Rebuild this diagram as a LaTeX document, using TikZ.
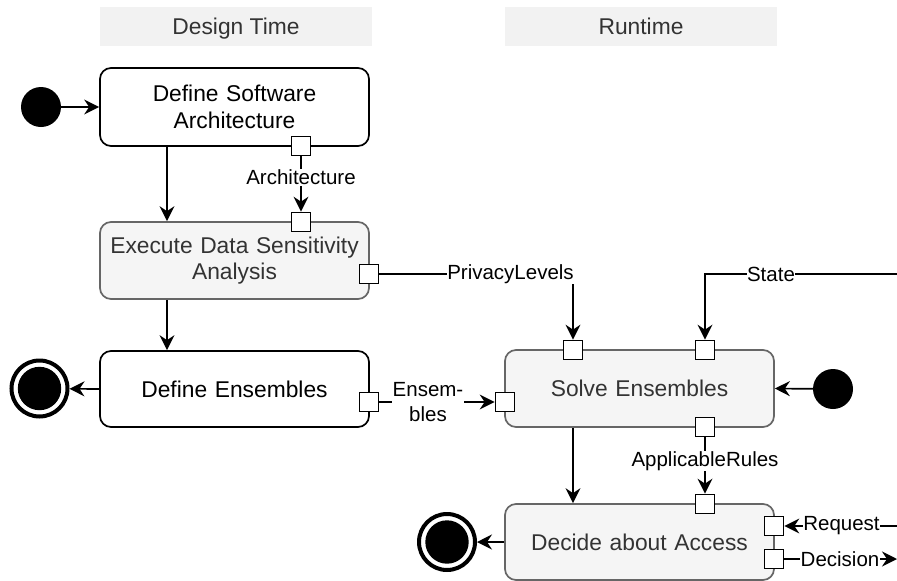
\documentclass[tikz,border=0pt]{standalone}
\usepackage{fontspec}
\setmainfont{Liberation Sans}
\usetikzlibrary{arrows.meta}
\definecolor{hdrfill}{HTML}{F2F2F2}
\definecolor{greyfill}{HTML}{F5F5F5}
\definecolor{greystroke}{HTML}{666666}
\definecolor{greytext}{HTML}{333333}
\begin{document}
\begin{tikzpicture}[x=1pt,y=-1pt,
  mainfont/.style={font=\fontsize{22.8}{26.7}\selectfont},
  lblfont/.style={font=\fontsize{20.5}{24.5}\selectfont},
  header/.style={rectangle, fill=hdrfill, draw=none, minimum width=272pt, minimum height=39pt, text=greytext, mainfont, inner sep=0pt, text height=16.3pt, text depth=0pt},
  action/.style={rectangle, rounded corners=11pt, draw=black, fill=white, line width=1.7pt, minimum width=269pt, text width=255pt, align=center, mainfont, inner sep=0pt},
  greyaction/.style={action, draw=greystroke, fill=greyfill, text=greytext},
  pin/.style={rectangle, draw=black, fill=white, line width=1.7pt, minimum size=19pt, inner sep=0pt},
  startnode/.style={circle, fill=black, minimum size=40pt, inner sep=0pt},
  finalnode/.style={circle, draw=black, fill=white, line width=4pt, minimum size=56pt, inner sep=0pt,
    path picture={\fill[black] (path picture bounding box.center) circle (21.7pt);}},
  arr/.style={line width=1.7pt, -{Stealth[length=15pt, width=15pt, inset=5pt]}},
  lbl/.style={fill=white, inner sep=0.5pt, lblfont, align=center}
]
\useasboundingbox (0,0) rectangle (897,581);

% headers
\node[header] (hdrDT) at (236,26.5) {Design Time};
\node[header] (hdrRT) at (641,26.5) {Runtime};

% actions
\node[action, minimum height=78pt] (box1) at (234.5,107) {Define Software\\Architecture};
\node[greyaction, minimum height=77pt] (box2) at (234.5,260.5) {Execute Data Sensitivity\\Analysis};
\node[action, minimum height=76pt] (box3) at (234.5,389) {Define Ensembles};
\node[greyaction, minimum height=77pt] (solve) at (639.5,388.5) {Solve Ensembles};
\node[greyaction, minimum height=76pt] (decide) at (639.5,542) {Decide about Access};

% initial / final nodes
\node[startnode] (start1) at (41,107) {};
\node[startnode] (start2) at (833,389) {};
\node[finalnode] (end1) at (39.5,388.5) {};
\node[finalnode] (end2) at (447,542) {};

% pins
\node[pin] (pA) at (301,146) {};
\node[pin] (pB) at (301,222) {};
\node[pin] (pC) at (369,274) {};
\node[pin] (pD) at (369,402) {};
\node[pin] (pE) at (505,402) {};
\node[pin] (pF) at (573,350) {};
\node[pin] (pG) at (705,350) {};
\node[pin] (pH) at (705,427) {};
\node[pin] (pI) at (705,504) {};
\node[pin] (pJ) at (774,526) {};
\node[pin] (pK) at (774,559) {};

% helper coordinates
\coordinate (colL) at (167,0);
\coordinate (colR) at (573,0);
\coordinate (stateIn) at (897,274);
\coordinate (reqIn) at (897,526);
\coordinate (decOut) at (897,559);

% control flow
\draw[arr] (start1) -- (box1.west);
\draw[arr] (box1.south -| colL) -- (box2.north -| colL);
\draw[arr] (box2.south -| colL) -- (box3.north -| colL);
\draw[arr] (box3.west) -- (end1);
\draw[arr] (start2) -- (solve.east);
\draw[arr] (solve.south -| colR) -- (decide.north -| colR);
\draw[arr] (decide.west) -- (end2);

% object flows
\draw[arr] (pA.south) -- (pB.north);
\draw[arr] (pC.east) -| (pF.north);
\draw[arr] (stateIn) -| (pG.north);
\draw[arr] (pD.east) -- (pE.west);
\draw[arr] (pH.south) -- (pI.north);
\draw[arr] (reqIn) -- (pJ.east);
\draw[arr] (pK.east) -- (decOut);

% flow labels
\node[lbl] (lArch) at (301,177.5) {Architecture};
\node[lbl] (lPriv) at (510.5,274) {PrivacyLevels};
\node[lbl] (lState) at (771,274) {State};
\node[lbl] (lEns) at (428,402) {Ensem-\\bles};
\node[lbl] (lRules) at (705,461) {ApplicableRules};
\node[lbl] (lReq) at (841.5,526) {Request};
\node[lbl] (lDec) at (840,559) {Decision};
\end{tikzpicture}
\end{document}
